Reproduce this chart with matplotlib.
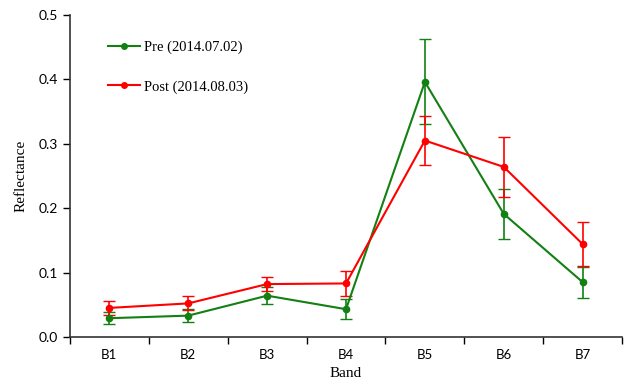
import matplotlib.pyplot as plt
from matplotlib.lines import Line2D
import numpy as np

bands = ['B1', 'B2', 'B3', 'B4', 'B5', 'B6', 'B7']
pre = [0.029, 0.033, 0.064, 0.043, 0.396, 0.191, 0.085]
pre_err = [0.009, 0.010, 0.013, 0.016, 0.066, 0.039, 0.024]
post = [0.045, 0.052, 0.082, 0.083, 0.305, 0.264, 0.144]
post_err = [0.011, 0.011, 0.011, 0.019, 0.038, 0.047, 0.034]

green = '#128012'
red = '#ff0000'

fig = plt.figure(figsize=(6.24, 3.85), dpi=100)
ax = fig.add_axes([0.112, 0.125, 0.885, 0.836])

x = np.arange(len(bands))
ax.errorbar(x, pre, yerr=pre_err, color=green, marker='o', markersize=4.5,
            linewidth=1.5, capsize=4, elinewidth=1.2)
ax.errorbar(x, post, yerr=post_err, color=red, marker='o', markersize=4.5,
            linewidth=1.5, capsize=4, elinewidth=1.2)

ax.set_xlim(-0.5, len(bands) - 0.5)
ax.set_ylim(0, 0.5)
ax.set_yticks([0, 0.1, 0.2, 0.3, 0.4, 0.5])
ax.set_yticklabels(['0.0', '0.1', '0.2', '0.3', '0.4', '0.5'], family='Lato', fontsize=10)
ax.set_xticks(x)
ax.set_xticklabels(bands, family='Lato', fontsize=9.5)
ax.set_xticks(np.arange(len(bands) + 1) - 0.5, minor=True)
ax.tick_params(axis='x', which='major', length=0, pad=9)
ax.tick_params(axis='x', which='minor', length=5, direction='out', width=1)
ax.tick_params(axis='y', length=5, direction='out', width=1)

for s in ['top', 'right']:
    ax.spines[s].set_visible(False)
for s in ['left', 'bottom']:
    ax.spines[s].set_linewidth(1.2)
    ax.spines[s].set_color('#333333')

ax.set_xlabel('Band', family='Liberation Serif', fontsize=11, labelpad=4)
ax.set_ylabel('Reflectance', family='Liberation Serif', fontsize=11, labelpad=8)

handles = [Line2D([], [], color=green, marker='o', markersize=4, linewidth=1.5),
           Line2D([], [], color=red, marker='o', markersize=4, linewidth=1.5)]
ax.legend(handles, ['Pre (2014.07.02)', 'Post (2014.08.03)'], loc='upper left',
          bbox_to_anchor=(0.045, 0.96), frameon=False,
          prop={'family': 'Liberation Serif', 'size': 10.5}, labelspacing=1.75,
          handlelength=2.2, handletextpad=0.25)

fig.savefig('out.png', dpi=100)
